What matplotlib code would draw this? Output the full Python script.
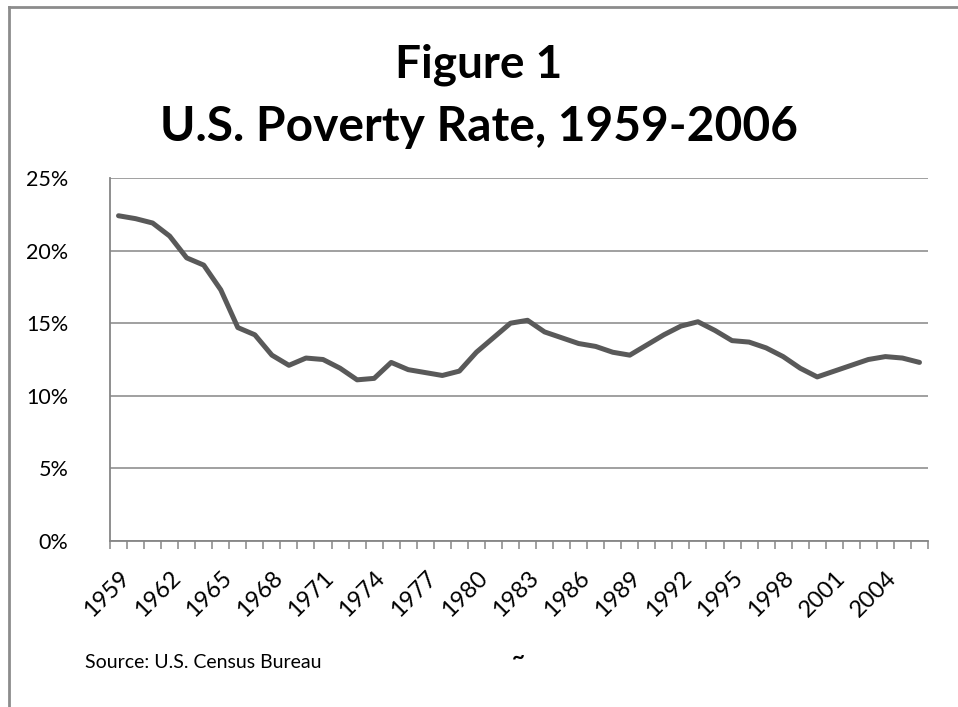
import matplotlib.pyplot as plt
from matplotlib.lines import Line2D

# Poverty rate (% of persons), U.S. Census Bureau
years = list(range(1959, 2007))
poverty_rate = [22.4, 22.2, 21.9, 21.0, 19.5, 19.0, 17.3, 14.7, 14.2, 12.8,
                12.1, 12.6, 12.5, 11.9, 11.1, 11.2, 12.3, 11.8, 11.6, 11.4,
                11.7, 13.0, 14.0, 15.0, 15.2, 14.4, 14.0, 13.6, 13.4, 13.0,
                12.8, 13.5, 14.2, 14.8, 15.1, 14.5, 13.8, 13.7, 13.3, 12.7,
                11.9, 11.3, 11.7, 12.1, 12.5, 12.7, 12.6, 12.3]
y_ticks = [0, 5, 10, 15, 20, 25]
label_step = 3

plt.rcParams['font.family'] = ['Lato', 'DejaVu Sans']

fig = plt.figure(figsize=(9.58, 7.07), dpi=100)
ax = fig.add_axes([110 / 958, 1 - 541 / 707, 818 / 958, 363 / 707])

grid_color = '#868686'
x = list(range(len(years)))
ax.plot(x, poverty_rate, color='#595959', linewidth=3.6, solid_capstyle='round',
        solid_joinstyle='round', zorder=3)

ax.set_xlim(-0.5, len(years) - 0.5)
ax.set_ylim(0, 25)

# y axis
ax.set_yticks(y_ticks)
ax.set_yticklabels([f"{v}%" for v in y_ticks], fontsize=15.5)
ax.tick_params(axis='y', length=0, pad=30)
ax.yaxis.grid(True, color=grid_color, linewidth=1.1)
ax.set_axisbelow(True)

# x axis: ticks between categories, labels every 3 years
ax.set_xticks([i - 0.5 for i in range(len(years) + 1)], minor=True)
ax.set_xticks(x[::label_step])
ax.set_xticklabels([str(y) for y in years[::label_step]], rotation=45,
                   ha='right', va='top', rotation_mode='anchor', fontsize=17)
ax.tick_params(axis='x', which='major', length=0, pad=19)
ax.tick_params(axis='x', which='minor', length=6, width=1.1, color=grid_color, direction='out')

for side in ['top', 'right']:
    ax.spines[side].set_visible(False)
for side in ['left', 'bottom']:
    ax.spines[side].set_color(grid_color)
    ax.spines[side].set_linewidth(1.3)

# titles
fig.text(479 / 958, 1 - 65 / 707, "Figure 1", ha='center', va='center',
         fontsize=33, fontweight='bold')
fig.text(479 / 958, 1 - 127 / 707, "U.S. Poverty Rate, 1959-2006", ha='center',
         va='center', fontsize=34.5, fontweight='bold')

fig.text(85 / 958, 1 - 663 / 707, "Source: U.S. Census Bureau", ha='left',
         va='center', fontsize=14)
fig.text(518 / 958, 1 - 657 / 707, "~", ha='center', va='center',
         fontsize=16, fontweight='bold')

# outer frame (top and left edges visible)
fig.add_artist(Line2D([9 / 958, 9 / 958], [0, 1 - 7 / 707], color='#8c8c8c',
                      linewidth=2, transform=fig.transFigure))
fig.add_artist(Line2D([9 / 958, 1], [1 - 7 / 707, 1 - 7 / 707], color='#8c8c8c',
                      linewidth=2, transform=fig.transFigure))

fig.savefig('out.png', dpi=100)
